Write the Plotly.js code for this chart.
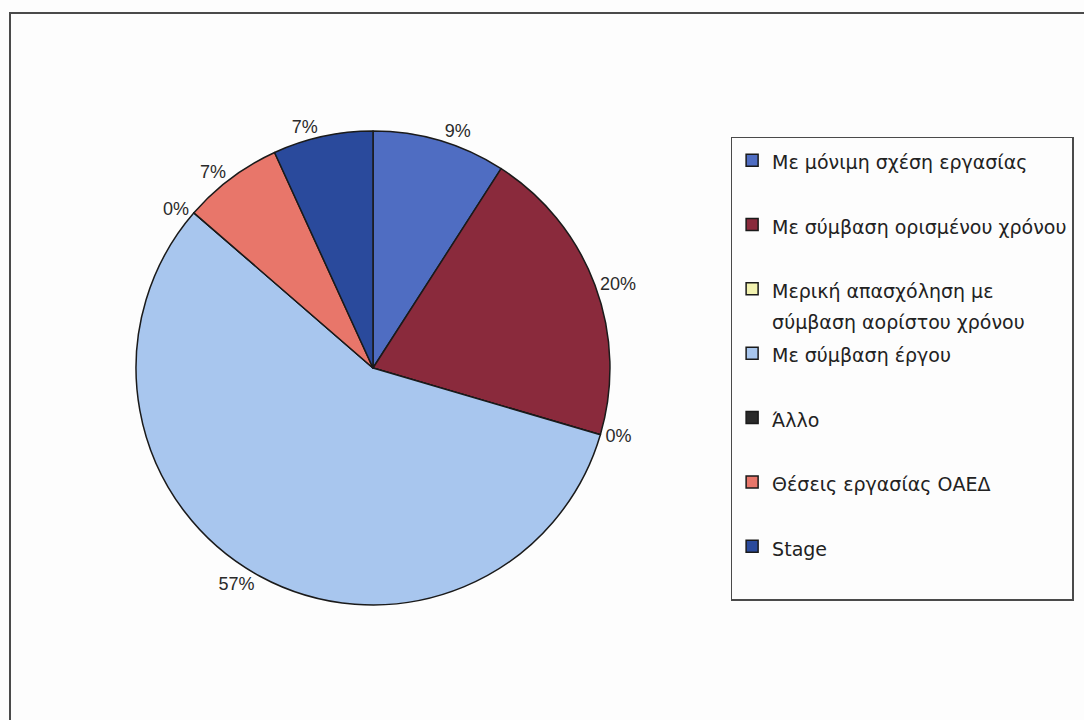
<!DOCTYPE html>
<html>
<head>
<meta charset="utf-8">
<script src="https://cdn.plot.ly/plotly-3.0.1.min.js"></script>
<style>
  html, body { margin: 0; padding: 0; background: #fdfdfd; }
  #wrap { position: relative; width: 1084px; height: 720px; overflow: hidden; }
  #frame { position: absolute; left: 9px; top: 12px; width: 1200px; height: 800px;
           border-left: 2px solid #4a4a4a; border-top: 2px solid #4a4a4a; }
  #chart { position: absolute; left: 0; top: 0; width: 1084px; height: 720px; }
</style>
</head>
<body>
<div id="wrap">
  <div id="frame"></div>
  <div id="chart"></div>
</div>
<script>
const categories = [
  "Με μόνιμη σχέση εργασίας",
  "Με σύμβαση ορισμένου χρόνου",
  "Μερική απασχόληση με<br>σύμβαση αορίστου χρόνου",
  "Με σύμβαση έργου",
  "Άλλο",
  "Θέσεις εργασίας ΟΑΕΔ",
  "Stage"
];
const counts = [4, 9, 0, 25, 0, 3, 3];
const sliceColors = ["#4f6dc2", "#8a2a3c", "#f2f2b0", "#a8c6ee", "#2a2a2a", "#e8766a", "#2a4a9c"];

// each legend entry occupies two lines of the legend's line height
const legendLabels = categories.map(c => {
  const parts = c.split("<br>");
  const lines = parts.map(p => '<span style="font-size:19px">' + p + '</span>');
  while (lines.length < 2) lines.push(" ");
  return lines.join("<br>");
});

const trace = {
  type: "pie",
  labels: legendLabels,
  values: counts,
  sort: false,
  direction: "clockwise",
  rotation: 0,
  marker: { colors: sliceColors, line: { color: "#1a1a1a", width: 1.5 } },
  texttemplate: "%{percent:.0%}",
  textposition: "outside",
  textfont: { family: "Liberation Sans, Arial, sans-serif", size: 18, color: "#2a2a2a" },
  outsidetextfont: { family: "Liberation Sans, Arial, sans-serif", size: 18, color: "#2a2a2a" },
  automargin: false,
  hoverinfo: "label+percent",
  domain: { x: [0.1255, 0.5627], y: [0.1597, 0.8181] }
};

const layout = {
  width: 1084, height: 720,
  margin: { l: 0, r: 0, t: 0, b: 0 },
  paper_bgcolor: "rgba(0,0,0,0)",
  plot_bgcolor: "rgba(0,0,0,0)",
  showlegend: true,
  legend: {
    x: 0.674, xanchor: "left", y: 0.81, yanchor: "top",
    bordercolor: "#4a4a4a", borderwidth: 1.5, bgcolor: "rgba(255,255,255,0)",
    font: { family: "DejaVu Sans, Liberation Sans, sans-serif", size: 23.6, color: "#222" },
    valign: "top", itemwidth: 30, traceorder: "normal"
  }
};

Plotly.newPlot("chart", [trace], layout, { displayModeBar: false, staticPlot: true });
</script>
</body>
</html>
